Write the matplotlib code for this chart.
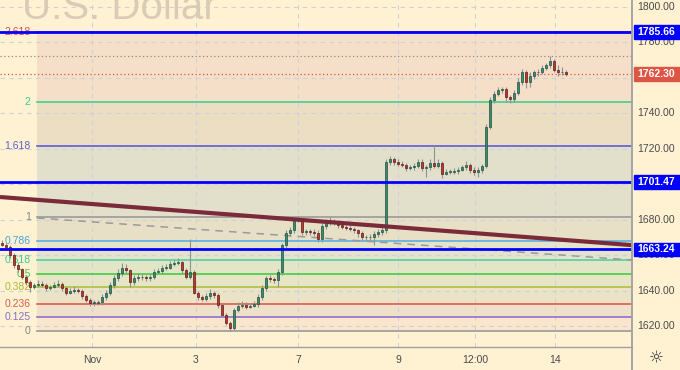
import numpy as np
import pandas as pd
import matplotlib
matplotlib.use('Agg')
import matplotlib.pyplot as plt
from matplotlib.patches import Rectangle
from matplotlib.lines import Line2D

plt.rcParams['font.family'] = ['Liberation Sans', 'DejaVu Sans']

# ---- data ----
closes = [1666, 1664.5, 1660, 1654.5, 1652, 1648, 1645, 1642, 1643, 1644,
          1643.5, 1641.5, 1642, 1643, 1644, 1641.5, 1639, 1640, 1640.5, 1640,
          1637, 1635, 1633, 1633, 1633.5, 1636.5, 1639, 1643, 1647, 1650,
          1653, 1651.5, 1645, 1647, 1648, 1647.5, 1647, 1648, 1650.5, 1651,
          1653, 1653, 1655, 1655.5, 1656, 1651.5, 1648, 1650.5, 1639, 1636.5,
          1635.5, 1637, 1639, 1637.5, 1632, 1626.5, 1622, 1619, 1629, 1631.5,
          1632, 1631, 1631.5, 1632.5, 1636.5, 1641.5, 1647, 1646.5, 1646, 1650.5,
          1665.5, 1672.5, 1674, 1680, 1680.5, 1673, 1673.5, 1673, 1672.5, 1669,
          1676.5, 1679, 1678.5, 1679, 1677, 1676, 1675.5, 1675, 1674, 1672.5,
          1670, 1670, 1670.5, 1672, 1673, 1674, 1712.5, 1714.5, 1712.5, 1711.5,
          1711, 1709, 1709.5, 1710.5, 1712.5, 1709, 1709.5, 1712, 1710.5, 1712,
          1706, 1707, 1707, 1707.5, 1708, 1709.5, 1711, 1708, 1707, 1708,
          1710, 1732, 1747.5, 1751, 1753, 1753.5, 1749, 1748, 1751.5, 1757.5,
          1763, 1757.5, 1761, 1763, 1763.5, 1765.5, 1767, 1769.5, 1764.5, 1763,
          1763.5, 1762.3]
highs = [1668.5, 1667, 1665.5, 1661, 1656, 1653, 1649, 1646, 1644.5, 1646,
         1645.5, 1644.5, 1643.5, 1645, 1646, 1645, 1642.5, 1641.5, 1642.5, 1641.5,
         1641, 1638, 1636, 1634.5, 1635, 1638, 1640.5, 1645, 1649, 1652,
         1655.5, 1655, 1652.5, 1649, 1650, 1649.5, 1649, 1649.5, 1652, 1653,
         1654.5, 1655, 1657, 1657.5, 1658.5, 1657, 1653, 1669, 1651.5, 1640,
         1637.5, 1638.5, 1641, 1640, 1639, 1633, 1627.5, 1623, 1630.5, 1633.5,
         1634, 1633.5, 1633, 1634, 1638, 1643, 1648.5, 1649, 1648, 1652,
         1667, 1674, 1676, 1681.5, 1682, 1681, 1675, 1675, 1674.5, 1674,
         1678, 1680.5, 1681.5, 1680.5, 1680, 1678.5, 1677, 1677, 1676, 1675,
         1673.5, 1671.5, 1672, 1673.5, 1674.5, 1676, 1714, 1716, 1715.5, 1714,
         1713, 1712, 1711, 1712, 1714.5, 1714, 1711, 1714, 1722, 1714,
         1713, 1708.5, 1708.5, 1709, 1709.5, 1711, 1713, 1712, 1709.5, 1709.5,
         1711.5, 1734, 1749, 1752.5, 1755, 1755, 1755, 1750.5, 1753, 1760,
         1765, 1764.5, 1763, 1764.5, 1765, 1767, 1768.5, 1772.2, 1770.5, 1767,
         1766, 1764.5]
lows = [1665, 1663.5, 1658.5, 1653, 1650.5, 1646.5, 1643.5, 1639.5, 1641, 1642,
        1642, 1640, 1640.5, 1641.5, 1642, 1640, 1637.5, 1638, 1639, 1638.5,
        1635.5, 1633.5, 1631.5, 1631.5, 1632, 1632, 1635, 1637.5, 1641.5, 1645.5,
        1648.5, 1650, 1642, 1643.5, 1645.5, 1646, 1645.5, 1645.5, 1646.5, 1649.5,
        1649.5, 1651.5, 1652, 1654, 1654.5, 1650, 1646.5, 1646.5, 1638, 1635,
        1634, 1634, 1635.5, 1636, 1630.5, 1625, 1620.5, 1617.5, 1617.8, 1628,
        1630, 1629.5, 1630, 1631, 1631, 1635, 1640, 1645, 1644.5, 1642,
        1649, 1664, 1671, 1672.5, 1678.5, 1671.5, 1671.5, 1671.5, 1671, 1667.5,
        1667.5, 1675, 1677, 1677, 1675.5, 1674.5, 1674, 1673.5, 1672.5, 1670.5,
        1668.5, 1668.5, 1668.5, 1666, 1670.5, 1671.5, 1672.5, 1711, 1711, 1710,
        1709.5, 1707.5, 1708, 1708, 1709, 1707.5, 1704, 1708, 1709, 1709,
        1703.5, 1705, 1705.5, 1706, 1706, 1707.5, 1708, 1706.5, 1705, 1704,
        1706.5, 1709, 1731, 1745.5, 1749.5, 1751.5, 1746.5, 1745.5, 1746.5, 1750,
        1756, 1754.5, 1755, 1759.5, 1761, 1762, 1764.5, 1765.5, 1763, 1761,
        1761.5, 1761]
first_open = 1667

fib_levels = [0, 0.125, 0.236, 0.382, 0.5, 0.618, 0.786, 1, 1.618, 2, 2.618]
fib_labels = ['0', '0.125', '0.236', '0.382', '0.5', '0.618', '0.786', '1', '1.618', '2', '2.618']
fib_low, fib_high = 1617.4, 1681.8

marked_prices = [1785.66, 1701.47, 1663.24]
last_price = 1762.30
day_high = 1772.2
trend_ends = [1692.8, 1665.7]
dashed_ends = [1681.0, 1657.3]

tick_pos = [22.5, 48.5, 74, 99, 118.25, 138.25]
tick_labels = ['Nov', '3', '7', '9', '12:00', '14']
# 1700 and 1760 sit fully under the price boxes, so they are not drawn
price_ticks = [1620, 1640, 1660, 1680, 1720, 1740, 1780, 1800]
grid_prices = [1620, 1640, 1660, 1680, 1700, 1720, 1740, 1760, 1780, 1800]

# ---- styles ----
bg = '#fff2d3'
line_cols = ['#9a9a9a', '#9070d0', '#e05a50', '#b0c040', '#44cc44', '#50d0a8',
             '#5ab0e0', '#9a9a9a', '#5c5cd8', '#40d090', '#e04848']
text_cols = ['#888888', '#8870c8', '#e05a50', '#a8b838', '#50c050', '#40c890',
             '#4aa0d8', '#888888', '#6060c8', '#3cc88a', '#d94a4a']
fill_cols = ['#fae6cc', '#eee0c9', '#ebe3c6', '#e6e6c6', '#e2e6c6', '#e4e4cb',
             '#e7e0c6', '#e2dfca', '#ecdec3', '#f6dfc8']

df = pd.DataFrame({'close': closes, 'high': highs, 'low': lows})
df['open'] = df['close'].shift(1).fillna(first_open)
idx = np.arange(len(df))

fig = plt.figure(figsize=(6.8, 3.7), dpi=100, facecolor=bg)
ax = fig.add_axes([0, 23 / 370, 632 / 680, 347 / 370])
ax.set_facecolor(bg)
x0, x1 = -0.5, 157.5
fib_x0 = 8.75
ax.set_xlim(x0, x1)
ax.set_ylim(1608.3, 1803.8)

fib_prices = [fib_low + lv * (fib_high - fib_low) for lv in fib_levels]

# fib fills
bounds = fib_prices + [1803.8]
for k in range(len(fill_cols)):
    ax.fill_between([fib_x0, x1], bounds[k], bounds[k + 1], color=fill_cols[k], lw=0, zorder=0)

# grid
for p in grid_prices:
    ax.axhline(p, color='#d0d0da', lw=0.8, ls=(0, (4, 4)), zorder=0.5)
for t in tick_pos:
    ax.axvline(t, color='#d0d0da', lw=0.8, ls=(0, (4, 4)), zorder=0.5)

# watermark
ax.text(22 / 680, 1 - 19 / 370, 'U.S. Dollar', transform=fig.transFigure, fontsize=29,
        color='#d9ccb7', va='baseline', ha='left', zorder=0.8, clip_on=False)

# fib lines + labels
for p, lab, lc, tc in zip(fib_prices, fib_labels, line_cols, text_cols):
    ax.plot([fib_x0, x1], [p, p], color=lc, lw=1.2, zorder=2)
    ax.text(7.2, p, lab, color=tc, fontsize=7.5, ha='right', va='center', zorder=2)

# dashed grey and trend line
ax.plot([fib_x0, x1], dashed_ends, color='#9a9a9a', lw=1.1, ls=(0, (5, 4)), zorder=2)
ax.plot([x0, x1], trend_ends, color='#7a2a38', lw=3, zorder=4, solid_capstyle='butt')

# high / last price dotted lines
ax.axhline(day_high, color='#8a8a8a', lw=0.9, ls=(0, (1, 2)), zorder=2)
ax.axhline(last_price, color='#e05040', lw=0.9, ls=(0, (1, 2)), zorder=2)

# candles
up = df['close'] >= df['open']
body_lo = df[['open', 'close']].min(axis=1)
body_h = (df['close'] - df['open']).abs().clip(lower=0.4)
ax.vlines(idx, df['low'], df['high'], color='#8a9494', lw=0.8, zorder=3)
ax.bar(idx[up], body_h[up], bottom=body_lo[up], width=0.7, color='#3b8f6f',
       edgecolor='#1f4f3f', lw=0.5, zorder=3.5)
ax.bar(idx[~up], body_h[~up], bottom=body_lo[~up], width=0.7, color='#c0392b',
       edgecolor='#5a1a1a', lw=0.5, zorder=3.5)

# marked blue levels
for p in marked_prices:
    ax.axhline(p, color='#0000ff', lw=2, zorder=5)

# axes
for s in ax.spines.values():
    s.set_visible(False)
ax.set_xticks(tick_pos)
ax.set_xticklabels(tick_labels)
ax.set_yticks([])
ax.tick_params(axis='x', length=0, pad=5.5, labelsize=7.5, labelcolor='#4a4a4a')

fig.add_artist(Line2D([632 / 680, 632 / 680], [0, 1], color='#a0a0a0', lw=1.3))
fig.add_artist(Line2D([0, 632 / 680], [23 / 370, 23 / 370], color='#a0a0a0', lw=1.0))

# price axis labels
ytr = ax.get_yaxis_transform()
for p in price_ticks:
    ax.text(1.038, p, '%.2f' % p, transform=ytr, fontsize=7.5, color='#4a4a4a',
            ha='center', va='center', clip_on=False, zorder=6)
box_h = 7.8
for p in marked_prices:
    ax.add_patch(Rectangle((1.0025, p - box_h / 2), 0.08, box_h, transform=ytr,
                           color='#0000ff', clip_on=False, zorder=7))
    ax.text(1.038, p, '%.2f' % p, transform=ytr, fontsize=7.5, color='white',
            fontweight='bold', ha='center', va='center', clip_on=False, zorder=8)
ax.add_patch(Rectangle((1.0025, last_price - box_h / 2), 0.08, box_h, transform=ytr,
                       color='#dd5544', clip_on=False, zorder=7))
ax.text(1.038, last_price, '%.2f' % last_price, transform=ytr, fontsize=7.5, color='white',
        fontweight='bold', ha='center', va='center', clip_on=False, zorder=8)

fig.text(656 / 680, 1 - 358 / 370, '\u263c', fontsize=12, family='DejaVu Sans',
         color='#333333', ha='center', va='center')

fig.savefig('out.png', dpi=100, facecolor=bg)
